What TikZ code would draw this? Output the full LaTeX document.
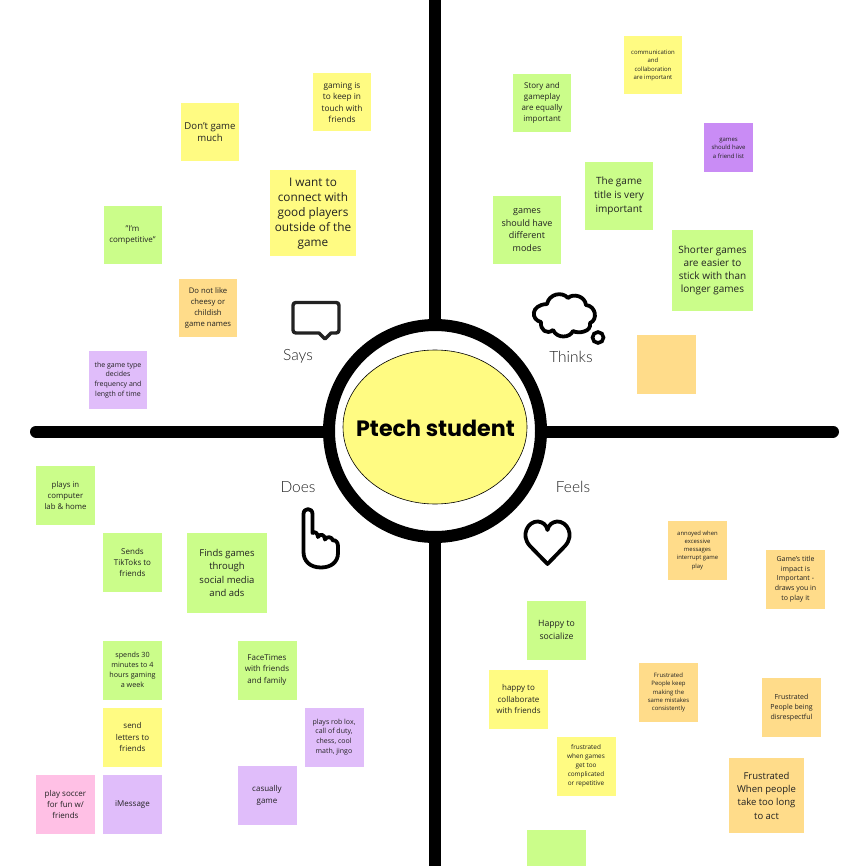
\documentclass[tikz,border=0pt]{standalone}
\usepackage{fontspec}
\setmainfont{Open Sans}
\newfontfamily\labelfont{Lato Light}
\newfontfamily\titlefont{Poppins}[BoldFont={Poppins Bold}]
\usetikzlibrary{shapes.geometric}
\definecolor{sgreen}{HTML}{CBFD8A}
\definecolor{syellow}{HTML}{FFFB82}
\definecolor{sorange}{HTML}{FFDC8A}
\definecolor{slilac}{HTML}{E0BDFA}
\definecolor{spurple}{HTML}{C98CF5}
\definecolor{spink}{HTML}{FFC0E5}
\definecolor{inktext}{HTML}{222222}
\newcommand\fsz[1]{\pgfmathsetmacro\tmpleading{#1*1.4}\fontsize{#1}{\tmpleading}\selectfont}
\tikzset{
  x=1pt,y=-1pt,
  sticky/.style={rectangle,inner sep=0pt,align=center,text=inktext},
  sq/.style={minimum width=#1pt,minimum height=#1pt},
  fs/.style={font=\fsz{#1}},
  axis/.style={line width=12pt,black},
  iconline/.style={line width=3.8pt,black,line join=round,line cap=round},
  qlabel/.style={font=\labelfont\fontsize{15.5}{18}\selectfont,text=inktext,inner sep=0pt},
}
\begin{document}
\begin{tikzpicture}
\useasboundingbox (0,0) rectangle (865,866);
\fill[white] (0,0) rectangle (865,866);
% axes
\coordinate (topend) at (435,0);
\coordinate (botend) at (435,866);
\coordinate (leftend) at (36,431.5);
\coordinate (rightend) at (833,431.5);
\draw[axis] (topend) -- (botend);
\draw[axis,line cap=round] (leftend) -- (rightend);
% hub
\node[circle,draw=black,line width=12pt,fill=white,minimum size=212pt,inner sep=0pt] (ring) at (435,431) {};
\node[ellipse,draw=black,line width=0.6pt,fill=syellow,minimum width=184pt,minimum height=154pt,inner sep=0pt] (hub) at (435,427) {};
\node[inner sep=0pt,text=black,font=\titlefont\bfseries\fontsize{22.2}{28}\selectfont] (hubtext) at (435.5,428) {Ptech student};
% quadrant labels
\node[qlabel] (says) at (298,356.5) {Says};
\node[qlabel] (thinks) at (571,356.5) {Thinks};
\node[qlabel] (does) at (298,487) {Does};
\node[qlabel] (feels) at (573,487) {Feels};
% says icon
\draw[iconline,draw=inktext,line width=3.4pt] (296,302.5) -- (336,302.5) .. controls (338,302.5) and (339,303.5) .. (339,305.5) -- (339,330) .. controls (339,332) and (338,333) .. (336,333) -- (331,333) -- (325,339) -- (319,333) -- (296,333) .. controls (294,333) and (293,332) .. (293,330) -- (293,305.5) .. controls (293,303.5) and (294,302.5) .. (296,302.5) -- cycle;
% thinks icon
\draw[iconline] (547,304) .. controls (549,294) and (562,291) .. (568,298)
 .. controls (573,293) and (585,296) .. (586,305)
 .. controls (596,306) and (598,320) .. (590,323)
 .. controls (592,332) and (578,334) .. (573,331)
 .. controls (570,338) and (557,339) .. (553,330)
 .. controls (547,335) and (540,330) .. (541,322)
 .. controls (531,320) and (530,305) .. (547,304) -- cycle;
\draw[line width=3.6pt,black] (598,337.5) circle[radius=5.5];
% does icon
\draw[iconline] (303.5,514) .. controls (303.5,507.5) and (312.5,507.5) .. (312.5,514) -- (312.5,533)
 .. controls (315,531) and (317.5,533) .. (318,537) .. controls (319.5,533.5) and (325,534) .. (325,539.5)
 .. controls (326.5,536) and (332,536.5) .. (333,540.5) .. controls (335,539.5) and (338,542) .. (338,546)
 -- (338,553) .. controls (338,562) and (331,567.5) .. (321,567.5) .. controls (310,567.5) and (303.5,561) .. (303.5,552) -- cycle;
% feels icon
\draw[iconline] (547.5,564) -- (530,546) .. controls (520,535) and (528,521) .. (538,521.5) .. controls (543,522) and (546.5,525) .. (547.5,530)
 .. controls (548.5,525) and (552,522) .. (557,521.5) .. controls (567,521) and (575,535) .. (565,546) -- cycle;
% Says notes
\node[sticky,sq=58,fill=syellow,font=\fontsize{9.6}{12}\selectfont] (n1) at (210,132) {Don't game\\much};
\node[sticky,sq=58,fill=syellow,fs=8.3] (n2) at (342,102.5) {gaming is\\to keep in\\touch with\\friends};
\node[sticky,sq=86,fill=syellow,font=\fontsize{11.8}{15}\selectfont] (n3) at (313,213.5) {I want to\\connect with\\good players\\outside of the\\game};
\node[sticky,sq=58,fill=sgreen,fs=8] (n4) at (132.5,235) {"I'm\\competitive"};
\node[sticky,sq=58,fill=sorange,fs=7.7] (n5) at (208,308) {Do not like\\cheesy or\\childish\\game names};
\node[sticky,sq=58,fill=slilac,fs=7] (n6) at (118,380) {the game type\\decides\\frequency and\\length of time};
% Thinks notes
\node[sticky,sq=58,fill=syellow,fs=6] (n7) at (653,65.5) {communication\\and\\collaboration\\are important};
\node[sticky,sq=58,fill=sgreen,fs=8] (n8) at (542,103) {Story and\\gameplay\\are equally\\important};
\node[sticky,sq=49,fill=spurple,fs=6] (n9) at (728.5,148) {games\\should have\\a friend list};
\node[sticky,sq=68,fill=sgreen,fs=10] (n10) at (619,196) {The game\\title is very\\important};
\node[sticky,sq=68,fill=sgreen,fs=9] (n11) at (527,230) {games\\should have\\different\\modes};
\node[sticky,sq=81,fill=sgreen,font=\fontsize{10}{13}\selectfont] (n12) at (712.5,270.5) {Shorter games\\are easier to\\stick with than\\longer games};
\node[sticky,sq=59,fill=sorange] (n13) at (666.5,364.5) {};
% Does notes
\node[sticky,sq=59,fill=sgreen,fs=7.8] (n14) at (65.5,495.5) {plays in\\computer\\lab \& home};
\node[sticky,sq=59,fill=sgreen,fs=8] (n15) at (132.5,562.5) {Sends\\TikToks to\\friends};
\node[sticky,sq=80,fill=sgreen,fs=9.5] (n16) at (227,573) {Finds games\\through\\social media\\and ads};
\node[sticky,sq=59,fill=sgreen,fs=7.2] (n17) at (132.5,670) {spends 30\\minutes to 4\\hours gaming\\a week};
\node[sticky,sq=59,fill=sgreen,fs=8] (n18) at (267,670) {FaceTimes\\with friends\\and family};
\node[sticky,sq=59,fill=syellow,fs=8] (n19) at (132.5,737) {send\\letters to\\friends};
\node[sticky,sq=59,fill=slilac,fs=7] (n20) at (334,737) {plays rob lox,\\call of duty,\\chess, cool\\math, jingo};
\node[sticky,sq=59,fill=slilac,fs=8] (n21) at (267,795.5) {casually\\game};
\node[sticky,sq=59,fill=spink,fs=8] (n22) at (65.5,804.5) {play soccer\\for fun w/\\friends};
\node[sticky,sq=59,fill=slilac,fs=8] (n23) at (132.5,804.5) {iMessage};
% Feels notes
\node[sticky,sq=59,fill=sorange,fs=5.9] (n24) at (697.5,550) {annoyed when\\excessive\\messages\\interrupt game\\play};
\node[sticky,sq=59,fill=sorange,fs=7] (n25) at (795.5,579) {Game's title\\impact is\\Important -\\draws you in\\to play it};
\node[sticky,sq=59,fill=sgreen,fs=8.7] (n26) at (556.5,630) {Happy to\\socialize};
\node[sticky,sq=59,fill=syellow,fs=8] (n27) at (518.5,699) {happy to\\collaborate\\with friends};
\node[sticky,sq=59,fill=sorange,fs=6] (n28) at (668.5,692.5) {Frustrated\\People keep\\making the\\same mistakes\\consistently};
\node[sticky,sq=59,fill=sorange,fs=7] (n29) at (791.5,707.5) {Frustrated\\People being\\disrespectful};
\node[sticky,sq=59,fill=syellow,fs=6.4] (n30) at (586,766) {frustrated\\when games\\get too\\complicated\\or repetitive};
\node[sticky,sq=75,fill=sorange,fs=9.5] (n31) at (766.5,795.5) {Frustrated\\When people\\take too long\\to act};
\node[sticky,minimum width=59pt,minimum height=36pt,fill=sgreen] (n32) at (556.5,848) {};
\end{tikzpicture}
\end{document}
